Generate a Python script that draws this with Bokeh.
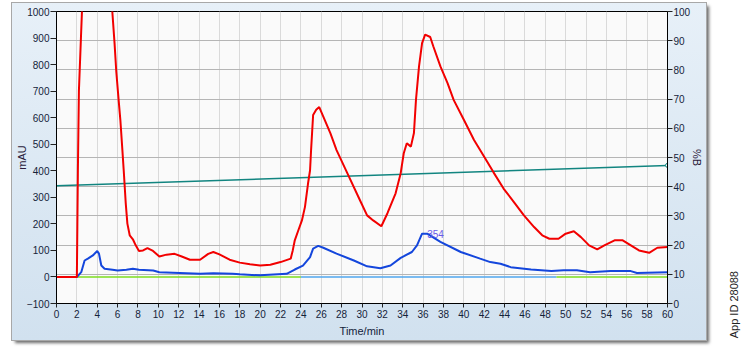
from bokeh.plotting import figure
from bokeh.models import (Range1d, LinearAxis, SingleIntervalTicker, Grid, Div)
from bokeh.layouts import row
from bokeh.embed import file_html
from bokeh.resources import INLINE
from bokeh.core.properties import value

# ---- data ----
red_t = [0, 2.0, 2.05, 2.1, 2.2, 2.4, 2.5, 3.0, 4.0, 5.0, 5.48, 5.7, 5.87, 6.1, 6.27, 6.47,
         6.6, 6.7, 6.8, 6.96, 7.19, 7.5, 7.78, 8.1, 8.5, 8.93, 9.48, 10.1, 10.8, 11.6, 12.3,
         13.1, 14.1, 14.9, 15.4, 16.0, 17.0, 18.0, 19.0, 20.0, 21.0, 22.0, 23.0, 23.2, 23.4,
         23.75, 24.1, 24.4, 24.7, 24.9, 25.0, 25.2, 25.5, 25.8, 26.2, 26.9, 27.5, 28.5, 29.8,
         30.5, 31.1, 31.9, 32.5, 33.3, 33.8, 34.1, 34.4, 34.8, 35.1, 35.3, 35.6, 35.9, 36.2,
         36.7, 37.0, 37.7, 38.4, 39.0, 40.0, 41.0, 42.0, 42.9, 43.9, 44.9, 45.9, 46.9, 47.7,
         48.4, 49.3, 50.0, 50.8, 51.5, 52.3, 53.1, 53.8, 54.8, 55.6, 56.4, 57.2, 58.2, 59.0, 60.0]
red_v = [0, 0, 200, 400, 700, 900, 1000, 1300, 1400, 1150, 1000, 881, 774, 667, 592, 478,
         402, 340, 277, 201, 157, 142, 119, 98, 100, 109, 98, 77, 84, 87, 77,
         65, 65, 87, 94, 85, 65, 54, 48, 43, 46, 56, 69, 100, 138,
         176, 213, 264, 352, 402, 478, 610, 630, 640, 604, 541, 478, 396, 289,
         232, 213, 191, 240, 315, 391, 466, 504, 491, 542, 667, 793, 881, 913,
         904, 869, 793, 730, 667, 592, 516, 453, 395, 333, 283, 232, 188, 157,
         144, 144, 163, 172, 150, 119, 104, 119, 138, 138, 119, 100, 91, 110, 113]

blue_t = [0, 2.0, 2.43, 2.76, 3.08, 3.57, 4.0, 4.17, 4.4, 4.72, 5.5, 6.0, 6.86, 7.5, 8.1, 9.5,
          10.1, 12.1, 14.1, 15.4, 17.3, 18.0, 20.0, 22.6, 23.4, 24.2, 24.9, 25.2, 25.7, 26.2,
          27.5, 29.2, 30.5, 31.8, 32.8, 33.8, 34.9, 35.4, 35.9, 36.4, 37.7, 39.7, 41.6, 42.6,
          43.6, 44.6, 46.6, 48.6, 49.8, 51.1, 52.4, 54.4, 56.4, 57.0, 60.0]
blue_v = [0, 0, 18, 62, 69, 81, 98, 88, 43, 31, 27, 24, 27, 31, 27, 24,
          18, 15, 12, 14, 12, 10, 6, 12, 28, 43, 75, 107, 117, 110,
          88, 62, 40, 33, 43, 72, 94, 119, 163, 163, 132, 94, 69, 56,
          50, 37, 28, 22, 25, 25, 18, 22, 22, 15, 18]

pctB_t = [0, 60]
pctB_v = [40.3, 47.3]

frac_green1_t = [2.0, 24.0]
frac_blue_t = [24.0, 49.1]
frac_green2_t = [49.1, 60.0]
frac_level = [0, 0]

peak_t = [36.4]
peak_v = [160]
peak_label = ["354"]

FONT = "Liberation Sans"
TXT = "#14233a"

p = figure(width=694, height=337, x_range=Range1d(0, 60), y_range=Range1d(-100, 1000),
           output_backend="svg", toolbar_location=None,
           min_border_left=40, min_border_right=34, min_border_top=8, min_border_bottom=37)
p.margin = (3, 0, 0, 12)
p.border_fill_alpha = 0
p.styles = {"background": "linear-gradient(to bottom, #e7f0f8, #d1e1ef)",
            "box-shadow": "0 0 0 1px #a8a8a8, 3px 3px 3px #6a6a6a"}
p.background_fill_color = "#fafafa"
p.outline_line_color = "black"
p.outline_line_width = 1

p.extra_y_ranges = {"pct": Range1d(0, 100)}

# x axis
p.xaxis.ticker = SingleIntervalTicker(interval=2)
p.xaxis.minor_tick_line_color = None
p.xaxis.axis_label = "Time/min"
p.xaxis.major_tick_out = 4
p.xaxis.major_tick_in = 0
p.xaxis.major_label_standoff = 2
p.xaxis.axis_label_standoff = 4

# left axis
p.yaxis.ticker = SingleIntervalTicker(interval=100)
p.yaxis.minor_tick_line_color = None
p.yaxis.axis_label = "mAU"
p.yaxis.major_tick_out = 6
p.yaxis.major_tick_in = 0
p.yaxis.major_label_standoff = 1
p.yaxis.axis_label_standoff = -4

right = LinearAxis(y_range_name="pct", axis_label="%B", ticker=SingleIntervalTicker(interval=10))
right.minor_tick_line_color = None
right.major_tick_out = 5
right.major_tick_in = 0
right.major_label_standoff = 1
right.axis_label_standoff = -2
p.add_layout(right, "right")

for ax in [p.xaxis[0], p.yaxis[0], right]:
    ax.axis_line_color = "black"
    ax.major_tick_line_color = "#222222"
    ax.major_label_text_font = FONT
    ax.major_label_text_font_size = "10px"
    ax.major_label_text_color = TXT
    ax.axis_label_text_font = FONT
    ax.axis_label_text_font_size = "11px"
    ax.axis_label_text_font_style = "normal"
p.xaxis.axis_label_text_color = TXT
p.yaxis.axis_label_text_color = "#2a1a3a"
right.axis_label_text_color = "#2a1a3a"

# grids
p.xgrid.grid_line_color = "#dadada"
p.xgrid.grid_line_width = 1
p.ygrid.visible = False
pg = Grid(dimension=1, ticker=SingleIntervalTicker(interval=10), y_range_name="pct",
          grid_line_color="#b5b5b5", grid_line_width=1)
p.add_layout(pg)

# fraction marks
p.line(frac_green1_t, frac_level, line_color="#7ddc1f", line_width=1.5)
p.line(frac_blue_t, frac_level, line_color="#4fa6ee", line_width=1.5)
p.line(frac_green2_t, frac_level, line_color="#7ddc1f", line_width=1.5)

# %B gradient
p.line(pctB_t, pctB_v, y_range_name="pct", line_color="#128580", line_width=1.5)
p.scatter(pctB_t[-1:], pctB_v[-1:], y_range_name="pct", marker="circle", size=4,
          fill_color="white", line_color="#128580")

# traces
p.line(blue_t, blue_v, line_color="#1446dc", line_width=2)
p.line(red_t, red_v, line_color="#f20000", line_width=2)

p.text(x=peak_t, y=peak_v, text=peak_label, text_font=value(FONT), text_font_size="10px",
       text_color="#6a5ae8", text_baseline="middle", text_align="left")

side = Div(text='<div style="writing-mode: vertical-rl; transform: rotate(180deg); '
                'font-family: Liberation Sans, sans-serif; font-size: 11px; color:#222;">App ID 28088</div>',
           width=39, height=354, styles={"padding-left": "16px", "padding-top": "266px"})

layout = row(p, side)
open("out.html", "w").write(file_html(layout, INLINE))
